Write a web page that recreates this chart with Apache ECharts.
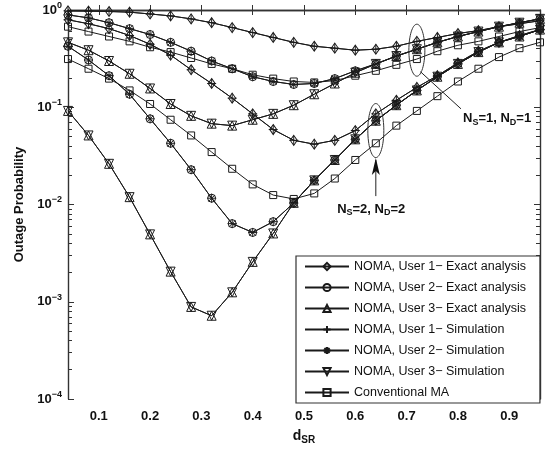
<!DOCTYPE html>
<html><head><meta charset="utf-8">
<script src="https://cdn.jsdelivr.net/npm/echarts@6/dist/echarts.min.js"></script>
<style>html,body{margin:0;padding:0;background:#fff}#c{width:549px;height:450px}</style>
</head><body><div id="c"></div>
<script>
// ---- data ----
const dSR = [0.04,0.08,0.12,0.16,0.20,0.24,0.28,0.32,0.36,0.40,0.44,0.48,0.52,0.56,0.60,0.64,0.68,0.72,0.76,0.80,0.84,0.88,0.92,0.96];
const xTickLabels = [0.1,0.2,0.3,0.4,0.5,0.6,0.7,0.8,0.9];
const yTickValues = [1e-4,1e-3,1e-2,1e-1,1];
// N_S=1, N_D=1
const ns1User1 = [0.98,0.975,0.965,0.95,0.91,0.87,0.81,0.74,0.66,0.586,0.522,0.465,0.424,0.405,0.386,0.395,0.424,0.476,0.522,0.573,0.614,0.674,0.722,0.775];
const ns1User2 = [0.89,0.83,0.74,0.643,0.56,0.465,0.377,0.299,0.249,0.206,0.184,0.1715,0.1755,0.197,0.237,0.279,0.336,0.395,0.465,0.534,0.600,0.674,0.740,0.811];
const ns1User3 = [0.465,0.386,0.299,0.221,0.156,0.108,0.0816,0.0678,0.0647,0.0744,0.0855,0.105,0.136,0.1755,0.2265,0.279,0.336,0.395,0.465,0.534,0.600,0.674,0.740,0.811];
const ns1Conv  = [0.674,0.600,0.534,0.476,0.414,0.369,0.321,0.279,0.249,0.216,0.197,0.184,0.18,0.188,0.211,0.237,0.273,0.313,0.377,0.434,0.476,0.534,0.600,0.659];
// N_S=2, N_D=2
const ns2User1 = [0.793,0.722,0.643,0.547,0.444,0.344,0.243,0.1755,0.124,0.0855,0.059,0.0457,0.0417,0.0457,0.0576,0.0855,0.118,0.16,0.211,0.286,0.377,0.465,0.547,0.629];
const ns2User2 = [0.424,0.306,0.211,0.136,0.0761,0.0426,0.0228,0.0116,0.00636,0.00516,0.00666,0.01035,0.0177,0.0287,0.0468,0.0727,0.105,0.149,0.206,0.279,0.369,0.465,0.534,0.629];
const ns2User3 = [0.0917,0.0513,0.0262,0.0119,0.00493,0.00204,0.000885,0.000718,0.00125,0.00257,0.00504,0.0104,0.0177,0.0287,0.0468,0.0727,0.105,0.149,0.206,0.279,0.369,0.465,0.534,0.629];
const ns2Conv  = [0.313,0.249,0.197,0.149,0.108,0.0744,0.0513,0.0346,0.0233,0.0161,0.0125,0.0114,0.013,0.0185,0.0287,0.0426,0.0647,0.0917,0.13,0.184,0.249,0.328,0.405,0.465];
const seriesNames = ['NOMA, User 1\u2212 Exact analysis','NOMA, User 2\u2212 Exact analysis','NOMA, User 3\u2212 Exact analysis','NOMA, User 1\u2212 Simulation','NOMA, User 2\u2212 Simulation','NOMA, User 3\u2212 Simulation','Conventional MA'];

// ---- styling ----
const FONT = 'Liberation Sans, Arial, sans-serif';
const symbols = [
  'diamond','circle','triangle',
  'path://M5,0L5,10M0,5L10,5',
  'path://M5,0L5,10M0,5L10,5M1.5,1.5L8.5,8.5M8.5,1.5L1.5,8.5',
  'path://M0,0L10,0L5,9Z',
  'rect'
];
const symSizes = [[7,10],8,9,9,9,9,7];
const groups = [
  [ns1User1, ns1User2, ns1User3, ns1User1, ns1User2, ns1User3, ns1Conv],
  [ns2User1, ns2User2, ns2User3, ns2User1, ns2User2, ns2User3, ns2Conv]
];
const series = [];
groups.forEach(g => {
  g.forEach((vals, k) => {
    series.push({
      name: seriesNames[k], type: 'line',
      data: dSR.map((x, i) => [x, vals[i]]),
      symbol: symbols[k], symbolSize: symSizes[k],
      showAllSymbol: true,
      lineStyle: {color: '#1a1a1a', width: 1},
      itemStyle: {color: 'rgba(255,255,255,0)', borderColor: '#1a1a1a', borderWidth: 1},
      emphasis: {disabled: true},
      animation: false, z: 3
    });
  });
});

const minorLog = [];
for (let e = -4; e < 0; e++) for (let m = 2; m <= 9; m++) minorLog.push(e + Math.log10(m));

const axisLine = {show: true, lineStyle: {color: '#333', width: 1.4}};
const chart = echarts.init(document.getElementById('c'), null, {renderer: 'canvas'});
chart.setOption({
  animation: false,
  backgroundColor: '#fff',
  grid: {left: 68, right: 9, top: 10, bottom: 43, containLabel: false},
  xAxis: [
    {type: 'value', min: 0.04, max: 0.96, position: 'bottom',
     axisLine: axisLine, splitLine: {show: false},
     axisTick: {show: true, inside: true, length: 5, customValues: xTickLabels, lineStyle: {color: '#333', width: 1}},
     axisLabel: {customValues: xTickLabels, formatter: v => v.toFixed(1), color: '#111', fontFamily: FONT, fontWeight: 'bold', fontSize: 13, margin: 11},
     name: 'd{s|SR}', nameLocation: 'middle', nameGap: 28,
     nameTextStyle: {color: '#111', fontFamily: FONT, fontWeight: 'bold', fontSize: 14,
       rich: {s: {fontFamily: FONT, fontWeight: 'bold', fontSize: 10, padding: [8, 0, 0, 0]}}}},
    {type: 'value', min: 0.04, max: 0.96, position: 'top',
     axisLine: axisLine, splitLine: {show: false},
     axisTick: {show: true, inside: true, length: 5, customValues: xTickLabels, lineStyle: {color: '#333', width: 1}},
     axisLabel: {show: false}}
  ],
  yAxis: [
    {type: 'log', logBase: 10, min: 1e-4, max: 1, position: 'left',
     axisLine: axisLine, splitLine: {show: false},
     axisTick: {show: true, inside: true, length: 6, lineStyle: {color: '#333', width: 1}},
     axisLabel: {color: '#111', margin: 6, fontFamily: FONT,
       formatter: v => { const e = Math.round(Math.log10(v)); return '{b|10}{s|' + (e < 0 ? '\u2212' + (-e) : e) + '}'; },
       rich: {b: {fontFamily: FONT, fontWeight: 'bold', fontSize: 13, color: '#111'},
              s: {fontFamily: FONT, fontWeight: 'bold', fontSize: 9, color: '#111', padding: [0, 0, 9, 0]}}},
     name: 'Outage Probability', nameLocation: 'middle', nameGap: 42,
     nameTextStyle: {color: '#111', fontFamily: FONT, fontWeight: 'bold', fontSize: 13}},
    {type: 'log', logBase: 10, min: 1e-4, max: 1, position: 'right',
     axisLine: axisLine, splitLine: {show: false},
     axisTick: {show: true, inside: true, length: 6, lineStyle: {color: '#333', width: 1}},
     axisLabel: {show: false}},
    {type: 'value', min: -4, max: 0, position: 'left', offset: 0,
     axisLine: {show: false, onZero: false}, splitLine: {show: false},
     axisTick: {show: true, inside: true, length: 4, customValues: minorLog, lineStyle: {color: '#333', width: 1}},
     axisLabel: {show: false}},
    {type: 'value', min: -4, max: 0, position: 'right', offset: 0,
     axisLine: {show: false, onZero: false}, splitLine: {show: false},
     axisTick: {show: true, inside: true, length: 4, customValues: minorLog, lineStyle: {color: '#333', width: 1}},
     axisLabel: {show: false}}
  ],
  legend: {
    data: seriesNames, orient: 'vertical', left: 296, top: 256,
    backgroundColor: '#fff', borderColor: '#333', borderWidth: 1.2,
    padding: [4, 14, 4, 8], itemGap: 8, itemWidth: 44, itemHeight: 9,
    textStyle: {color: '#111', fontFamily: FONT, fontSize: 12.5},
    selectedMode: false, z: 10
  },
  series: series
});

// ---- annotations placed from data coordinates ----
function px(x, y) { return chart.convertToPixel({xAxisIndex: 0, yAxisIndex: 0}, [x, y]); }
const e1 = px(0.72, 0.386), e2 = px(0.64, 0.0576);
const l1a = px(0.727, 0.232), l1b = px(0.806, 0.0963);
const lab1 = px(0.806, 0.0761);
const ar2a = px(0.64, 0.0287), ar2b = px(0.64, 0.0122);
const lab2 = px(0.631, 0.0089);
const rich = {s: {fontSize: 9, fontWeight: 'bold', fontFamily: FONT, padding: [7, 0, 0, 0]}};
chart.setOption({
  graphic: [
    {type: 'ellipse', shape: {cx: e1[0], cy: e1[1], rx: 8, ry: 26}, style: {fill: 'none', stroke: '#333', lineWidth: 1}, z: 20},
    {type: 'ellipse', shape: {cx: e2[0], cy: e2[1], rx: 8, ry: 27}, style: {fill: 'none', stroke: '#333', lineWidth: 1}, z: 20},
    {type: 'line', shape: {x1: l1a[0], y1: l1a[1], x2: l1b[0], y2: l1b[1]}, style: {stroke: '#222', lineWidth: 1}, z: 20},
    {type: 'line', shape: {x1: ar2a[0], y1: ar2a[1], x2: ar2b[0], y2: ar2b[1]}, style: {stroke: '#222', lineWidth: 1}, z: 20},
    {type: 'polygon', shape: {points: [[ar2a[0], ar2a[1] - 2], [ar2a[0] - 4, ar2a[1] + 15], [ar2a[0], ar2a[1] + 11], [ar2a[0] + 4, ar2a[1] + 15]]}, style: {fill: '#111'}, z: 20},
    {type: 'text', x: lab1[0] + 2, y: lab1[1], style: {text: 'N{s|S}=1, N{s|D}=1', fill: '#111', font: 'bold 13px ' + FONT, rich: rich, verticalAlign: 'middle', align: 'left'}, z: 20},
    {type: 'text', x: lab2[0], y: lab2[1], style: {text: 'N{s|S}=2, N{s|D}=2', fill: '#111', font: 'bold 13px ' + FONT, rich: rich, verticalAlign: 'middle', align: 'center'}, z: 20}
  ]
});
</script></body></html>
